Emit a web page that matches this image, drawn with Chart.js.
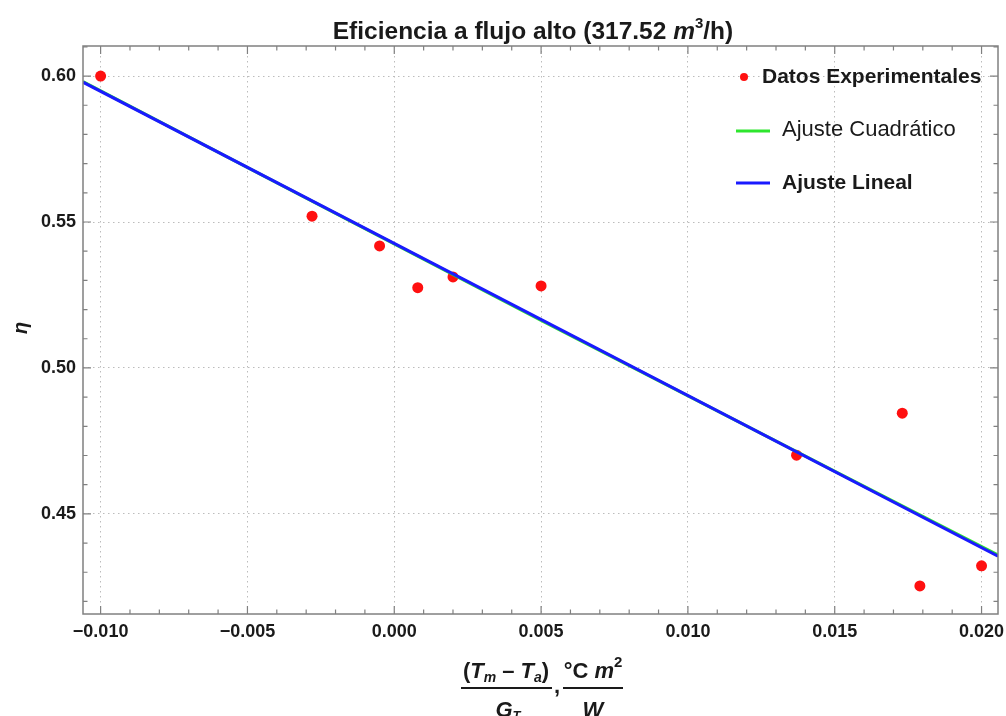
<!DOCTYPE html>
<html>
<head>
<meta charset="utf-8">
<script src="https://cdn.jsdelivr.net/npm/chart.js"></script>
<style>
  body { margin: 0; background: #fff; }
  #wrap { width: 1006px; height: 716px; }
</style>
</head>
<body>
<div id="wrap"><canvas id="chart"></canvas></div>
<script>
// measured efficiency vs reduced temperature
const expX = [-0.0100, -0.0028, -0.0005, 0.0008, 0.0020, 0.0050, 0.0137, 0.0173, 0.0179, 0.0200];
const expY = [0.6000, 0.5520, 0.5418, 0.5275, 0.5312, 0.5281, 0.4701, 0.4845, 0.4253, 0.4322];

// fitted curves, read at the ends of the plot range
const linX = [-0.0106, 0.02056];
const linY = [0.5979, 0.4355];
const quadX = [-0.0106, 0.0050, 0.02056];
const quadY = [0.5981, 0.5163, 0.4359];

const xTicks = [-0.010, -0.005, 0.000, 0.005, 0.010, 0.015, 0.020];
const yTicks = [0.45, 0.50, 0.55, 0.60];

const FONT = "'Liberation Sans', Arial, sans-serif";
const RED = '#ff1010';
const GREEN = '#2ee62e';
const BLUE = '#1a1aff';

function pts(xs, ys) {
    return xs.map((x, i) => ({ x: x, y: ys[i] }));
}

// draw a row of differently styled pieces centered on cx
function drawRuns(ctx, runs, cx, baseline) {
    let w = 0;
    runs.forEach((r) => {
        ctx.font = r.f;
        r.w = ctx.measureText(r.t).width;
        w += r.w;
    });
    let x = cx - w / 2;
    ctx.textAlign = 'left';
    ctx.textBaseline = 'alphabetic';
    runs.forEach((r) => {
        ctx.font = r.f;
        ctx.fillText(r.t, x, baseline + (r.dy || 0));
        x += r.w;
    });
    return w;
}

const decorations = {
    id: 'decorations',
    afterDraw(chart) {
        const ctx = chart.ctx;
        const a = chart.chartArea;
        const xs = chart.scales.x;
        const ys = chart.scales.y;
        ctx.save();

        // frame with inward ticks on all four sides
        ctx.strokeStyle = '#808080';
        ctx.lineWidth = 1.5;
        ctx.strokeRect(a.left, a.top, a.right - a.left, a.bottom - a.top);
        ctx.lineWidth = 1.2;
        ctx.beginPath();
        for (let i = -10; i <= 20; i++) {
            const px = xs.getPixelForValue(i / 1000);
            const len = (i % 5 === 0) ? 8 : 4.5;
            ctx.moveTo(px, a.bottom); ctx.lineTo(px, a.bottom - len);
            ctx.moveTo(px, a.top); ctx.lineTo(px, a.top + len);
        }
        for (let i = 42; i <= 61; i++) {
            const py = ys.getPixelForValue(i / 100);
            if (py < a.top || py > a.bottom) continue;
            const len = (i % 5 === 0) ? 8 : 4.5;
            ctx.moveTo(a.left, py); ctx.lineTo(a.left + len, py);
            ctx.moveTo(a.right, py); ctx.lineTo(a.right - len, py);
        }
        ctx.stroke();

        ctx.fillStyle = '#1a1a1a';

        // title
        drawRuns(ctx, [
            { t: 'Eficiencia a flujo alto (317.52 ', f: 'bold 24.5px ' + FONT },
            { t: 'm', f: 'italic bold 24.5px ' + FONT },
            { t: '3', f: 'bold 15px ' + FONT, dy: -11 },
            { t: '/h)', f: 'bold 24.5px ' + FONT }
        ], 533, 39);

        // y axis label
        ctx.save();
        ctx.translate(27, 328);
        ctx.rotate(-Math.PI / 2);
        ctx.font = 'italic bold 20px ' + FONT;
        ctx.textAlign = 'center';
        ctx.textBaseline = 'alphabetic';
        ctx.fillText('η', 0, 0);
        ctx.restore();

        // x axis label: two stacked fractions
        const bf = 'bold 22px ' + FONT;
        const bi = 'italic bold 22px ' + FONT;
        const sub = 'italic bold 14px ' + FONT;
        drawRuns(ctx, [
            { t: '(', f: bf }, { t: 'T', f: bi }, { t: 'm', f: sub, dy: 4 },
            { t: ' – ', f: bf }, { t: 'T', f: bi }, { t: 'a', f: sub, dy: 4 },
            { t: ')', f: bf }
        ], 506, 678);
        drawRuns(ctx, [
            { t: 'G', f: bi }, { t: 'T', f: 'italic bold 13px ' + FONT, dy: 3 }
        ], 508, 717);
        drawRuns(ctx, [
            { t: '°C ', f: bf }, { t: 'm', f: bi }, { t: '2', f: 'bold 15px ' + FONT, dy: -11 }
        ], 593, 678);
        drawRuns(ctx, [{ t: 'W', f: bi }], 593, 717);
        ctx.fillRect(461, 687, 91, 2);
        ctx.fillRect(563, 687, 60, 2);
        ctx.font = bf;
        ctx.fillText(',', 554, 693);

        // legend
        ctx.fillStyle = RED;
        ctx.beginPath();
        ctx.arc(744, 77, 4, 0, Math.PI * 2);
        ctx.fill();
        ctx.lineWidth = 3;
        ctx.strokeStyle = GREEN;
        ctx.beginPath(); ctx.moveTo(736, 131); ctx.lineTo(770, 131); ctx.stroke();
        ctx.strokeStyle = BLUE;
        ctx.beginPath(); ctx.moveTo(736, 183); ctx.lineTo(770, 183); ctx.stroke();
        ctx.fillStyle = '#1a1a1a';
        ctx.textAlign = 'left';
        ctx.textBaseline = 'middle';
        ctx.font = 'bold 21px ' + FONT;
        ctx.fillText('Datos Experimentales', 762, 77);
        ctx.font = '22px ' + FONT;
        ctx.fillText('Ajuste Cuadrático', 782, 130);
        ctx.font = 'bold 21px ' + FONT;
        ctx.fillText('Ajuste Lineal', 782, 183);

        ctx.restore();
    }
};

new Chart(document.getElementById('chart'), {
    type: 'scatter',
    data: {
        datasets: [
            {
                label: 'Ajuste Lineal',
                data: pts(linX, linY),
                showLine: true,
                borderColor: BLUE,
                borderWidth: 3,
                pointRadius: 0,
                order: 0
            },
            {
                label: 'Ajuste Cuadrático',
                data: pts(quadX, quadY),
                showLine: true,
                borderColor: GREEN,
                borderWidth: 3,
                pointRadius: 0,
                cubicInterpolationMode: 'monotone',
                order: 1
            },
            {
                label: 'Datos Experimentales',
                data: pts(expX, expY),
                backgroundColor: RED,
                borderWidth: 0,
                pointRadius: 5.5,
                order: 2
            }
        ]
    },
    options: {
        responsive: true,
        maintainAspectRatio: false,
        animation: false,
        layout: { padding: { left: 0, right: 8, top: 46, bottom: 0 } },
        plugins: {
            legend: { display: false },
            title: { display: false },
            tooltip: { enabled: false }
        },
        scales: {
            x: {
                type: 'linear',
                min: -0.0106,
                max: 0.02056,
                afterBuildTicks: (s) => { s.ticks = xTicks.map((v) => ({ value: v })); },
                afterFit: (s) => { s.height = 102; s.paddingLeft = 0; s.paddingRight = 0; },
                grid: { color: '#bcbcbc', lineWidth: 1, drawTicks: false },
                border: { display: false, dash: [1.5, 3.5] },
                ticks: {
                    padding: 7,
                    color: '#1a1a1a',
                    font: { family: FONT, size: 18, weight: 'bold' },
                    callback: (v) => (v < 0 ? '−' : '') + Math.abs(v).toFixed(3)
                }
            },
            y: {
                type: 'linear',
                min: 0.4157,
                max: 0.6103,
                afterBuildTicks: (s) => { s.ticks = yTicks.map((v) => ({ value: v })); },
                afterFit: (s) => { s.width = 83; s.paddingTop = 0; s.paddingBottom = 0; },
                grid: { color: '#bcbcbc', lineWidth: 1, drawTicks: false },
                border: { display: false, dash: [1.5, 3.5] },
                ticks: {
                    padding: 7,
                    color: '#1a1a1a',
                    font: { family: FONT, size: 18, weight: 'bold' },
                    callback: (v) => v.toFixed(2)
                }
            }
        }
    },
    plugins: [decorations]
});
</script>
</body>
</html>
